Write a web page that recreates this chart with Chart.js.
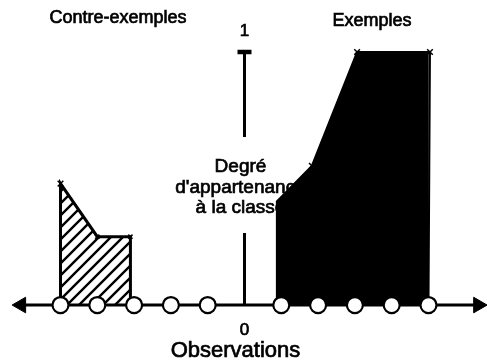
<!DOCTYPE html>
<html>
<head>
<meta charset="utf-8">
<script src="https://cdn.jsdelivr.net/npm/chart.js@4.4.0/dist/chart.umd.min.js"></script>
<style>
  html, body { margin: 0; padding: 0; background: #fff; }
  canvas { display: block; }
</style>
</head>
<body>
<canvas id="c" width="487" height="364"></canvas>
<script>
// ── DATA ─────────────────────────────────────────────────────
// observations on the horizontal axis (0 = vertical axis)
const obsX = [-5, -4, -3, -2, -1, 1, 2, 3, 4, 5];

// contre-exemples: membership degree outline (hatched)
const contreX = [-5, -5, -4, -3.1, -3.1];
const contreY = [0, 0.48, 0.27, 0.27, 0];

// exemples: membership degree outline (solid black)
const exemplesX = [0.88, 0.88, 1.83, 3.06, 5.04, 5.0];
const exemplesY = [0, 0.41, 0.55, 1, 1, 0];

// axes
const axisX = [-6.07, 6.35];          // arrow heads at the two ends
const vertAxisY = [0, 0.285, null, 0.664, 1]; // gap behind the label
const tickLabels = ['0', '1'];

const labelLines = ['Degré', "d'appartenance", 'à la classe'];

const FONT = '"Liberation Sans", Arial, Helvetica, sans-serif';

// ── HATCH PATTERN ────────────────────────────────────────────
function hatch() {
  const s = 12;
  const c = document.createElement('canvas');
  c.width = s; c.height = s;
  const g = c.getContext('2d');
  g.fillStyle = '#fff';
  g.fillRect(0, 0, s, s);
  g.strokeStyle = '#000';
  g.lineWidth = 2.4;
  g.beginPath();
  g.moveTo(0, s); g.lineTo(s, 0);
  g.moveTo(-s / 2, s / 2); g.lineTo(s / 2, -s / 2);
  g.moveTo(s / 2, s + s / 2); g.lineTo(s + s / 2, s / 2);
  g.stroke();
  return g.createPattern(c, 'repeat');
}

const zip = (xs, ys) => xs.map((x, i) => ({ x, y: ys[i] }));

// heavy-ish text, like the scanned original
function txt(ctx, t, x, y) {
  ctx.fillText(t, x, y);
  ctx.strokeText(t, x, y);
}

// ── TEXT PLUGIN (drawn under the datasets) ───────────────────
const texts = {
  id: 'texts',
  beforeDatasetsDraw(chart) {
    const { ctx, scales: { x, y } } = chart;
    const x0 = x.getPixelForValue(0);
    ctx.save();
    ctx.fillStyle = '#000';
    ctx.strokeStyle = '#000';
    ctx.lineWidth = 0.7;
    ctx.textAlign = 'center';
    ctx.textBaseline = 'middle';

    ctx.font = '18px ' + FONT;
    txt(ctx, 'Contre-exemples', 118, 18);
    txt(ctx, 'Exemples', 372, 21);

    ctx.font = '22px ' + FONT;
    txt(ctx, 'Observations', x0 - 9, 351);

    ctx.font = '19px ' + FONT;
    labelLines.forEach((t, i) => txt(ctx, t, x0 - 4, 167 + i * 20.5));

    ctx.font = '17px ' + FONT;
    txt(ctx, tickLabels[0], x0, y.getPixelForValue(0) + 25);
    txt(ctx, tickLabels[1], x0, y.getPixelForValue(1) - 21);
    ctx.restore();
  }
};

new Chart(document.getElementById('c'), {
  type: 'scatter',
  data: {
    datasets: [
      {
        data: zip(contreX, contreY),
        showLine: true,
        fill: 'origin',
        backgroundColor: hatch(),
        borderColor: '#000',
        borderWidth: 3,
        pointStyle: 'crossRot',
        pointRadius: [0, 4, 3, 3, 0],
        pointBorderColor: '#000',
        pointBorderWidth: 1.5,
        order: 6,
        clip: false,
      },
      {
        data: zip(exemplesX, exemplesY),
        showLine: true,
        fill: 'origin',
        backgroundColor: '#000',
        borderColor: '#000',
        borderWidth: 2,
        pointStyle: 'crossRot',
        pointRadius: [0, 0, 4, 4, 4, 0],
        pointBorderColor: '#000',
        pointBorderWidth: 1.5,
        order: 5,
        clip: false,
      },
      {
        // horizontal axis with arrow heads
        data: zip(axisX, [0, 0]),
        showLine: true,
        borderColor: '#000',
        borderWidth: 3,
        pointStyle: 'triangle',
        rotation: [-90, 90],
        pointRadius: 9,
        pointBackgroundColor: '#000',
        pointBorderColor: '#000',
        pointBorderWidth: 1,
        order: 3,
        clip: false,
      },
      {
        // vertical axis
        data: vertAxisY.map(v => ({ x: 0, y: v })),
        showLine: true,
        spanGaps: false,
        borderColor: '#000',
        borderWidth: 3,
        pointRadius: 0,
        order: 2,
        clip: false,
      },
      {
        // tick at degree 1
        data: [{ x: 0, y: 1 }],
        pointStyle: 'line',
        pointRadius: 7,
        pointBorderColor: '#000',
        pointBorderWidth: 4.5,
        order: 2,
        clip: false,
      },
      {
        // observations
        data: obsX.map(v => ({ x: v, y: 0 })),
        pointStyle: 'circle',
        pointRadius: 8,
        pointBackgroundColor: '#fff',
        pointBorderColor: '#000',
        pointBorderWidth: 2.2,
        order: 1,
        clip: false,
      },
    ]
  },
  options: {
    responsive: false,
    animation: false,
    events: [],
    layout: { padding: 0, autoPadding: false },
    plugins: { legend: { display: false }, tooltip: { enabled: false } },
    scales: {
      x: { type: 'linear', display: false, min: -6.644, max: 6.59 },
      y: { type: 'linear', display: false, min: -0.233, max: 1.2055 },
    },
  },
  plugins: [texts],
});
</script>
</body>
</html>
